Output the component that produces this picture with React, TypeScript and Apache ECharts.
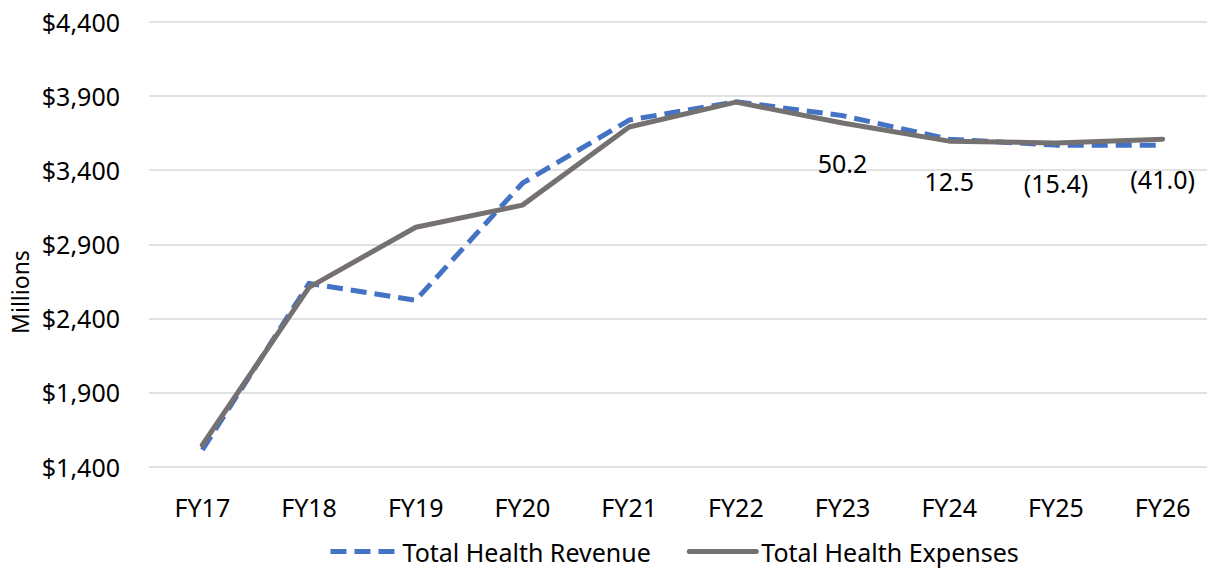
import React, { useEffect, useRef } from "react";
import * as echarts from "echarts";

const categories = ["FY17", "FY18", "FY19", "FY20", "FY21", "FY22", "FY23", "FY24", "FY25", "FY26"];
const revenue = [1512, 2636, 2522, 3312, 3738, 3862, 3768, 3609, 3569, 3568];
const expenses = [1545, 2609, 3015, 3164, 3691, 3859, 3718, 3596, 3584, 3609];
const diffLabels = ["", "", "", "", "", "", "50.2", "12.5", "(15.4)", "(41.0)"];
const yMin = 1400;
const yMax = 4400;
const yInterval = 500;

const FONT = "Noto Sans";

export default function App() {
  const ref = useRef<HTMLDivElement>(null);
  useEffect(() => {
    if (!ref.current) return;
    const chart = echarts.init(ref.current, null, { renderer: "svg" });
    chart.setOption({
      animation: false,
      backgroundColor: "#ffffff",
      textStyle: { fontFamily: FONT },
      grid: { left: 149, right: 14, top: 22, bottom: 102.5, containLabel: false },
      legend: {
        left: 323,
        top: 534,
        itemWidth: 67,
        itemHeight: 14,
        itemGap: 36,
        itemStyle: { color: "transparent", borderWidth: 0, opacity: 0 },
        lineStyle: { width: 5 },
        textStyle: { fontFamily: FONT, fontSize: 25, color: "#000" },
        data: ["Total Health Revenue", "Total Health Expenses"],
      },
      xAxis: {
        type: "category",
        data: categories,
        boundaryGap: true,
        axisLine: { show: false },
        axisTick: { show: false },
        axisLabel: { fontFamily: FONT, fontSize: 25, color: "#000", margin: 28 },
      },
      yAxis: {
        type: "value",
        min: yMin,
        max: yMax,
        interval: yInterval,
        axisLine: { show: false },
        axisTick: { show: false },
        splitLine: { lineStyle: { color: "#d9d9d9", width: 1.5 } },
        axisLabel: {
          fontFamily: FONT,
          fontSize: 25,
          color: "#000",
          margin: 29,
          formatter: (v: number) => "$" + v.toLocaleString("en-US"),
        },
      },
      graphic: [
        {
          type: "text",
          x: 20,
          y: 292,
          rotation: Math.PI / 2,
          style: {
            text: "Millions",
            fontFamily: FONT,
            fontSize: 23,
            fill: "#000",
            align: "center",
            verticalAlign: "middle",
          },
        },
      ],
      series: [
        {
          name: "Total Health Revenue",
          type: "line",
          data: revenue,
          symbol: "none",
          color: "#4472C4",
          lineStyle: { color: "#4472C4", width: 5, type: [16, 8], join: "round" },
        },
        {
          name: "Total Health Expenses",
          type: "line",
          data: expenses,
          symbol: "none",
          color: "#767171",
          lineStyle: { color: "#767171", width: 5, join: "round", cap: "round" },
        },
        {
          name: "Difference",
          type: "line",
          data: expenses,
          symbol: "circle",
          symbolSize: 1,
          showSymbol: true,
          silent: true,
          itemStyle: { color: "rgba(0,0,0,0)", borderWidth: 0 },
          lineStyle: { color: "rgba(0,0,0,0)", width: 0 },
          label: {
            show: true,
            position: "bottom",
            distance: 27,
            fontFamily: FONT,
            fontSize: 25,
            color: "#000",
            formatter: (p: any) => diffLabels[p.dataIndex] || "",
          },
        },
      ],
    });
    return () => chart.dispose();
  }, []);
  return (
    <div style={{ position: "absolute", left: 0, top: 0, width: 1207, height: 569, overflow: "hidden" }}>
      <div ref={ref} style={{ width: 1230, height: 569 }} />
    </div>
  );
}
